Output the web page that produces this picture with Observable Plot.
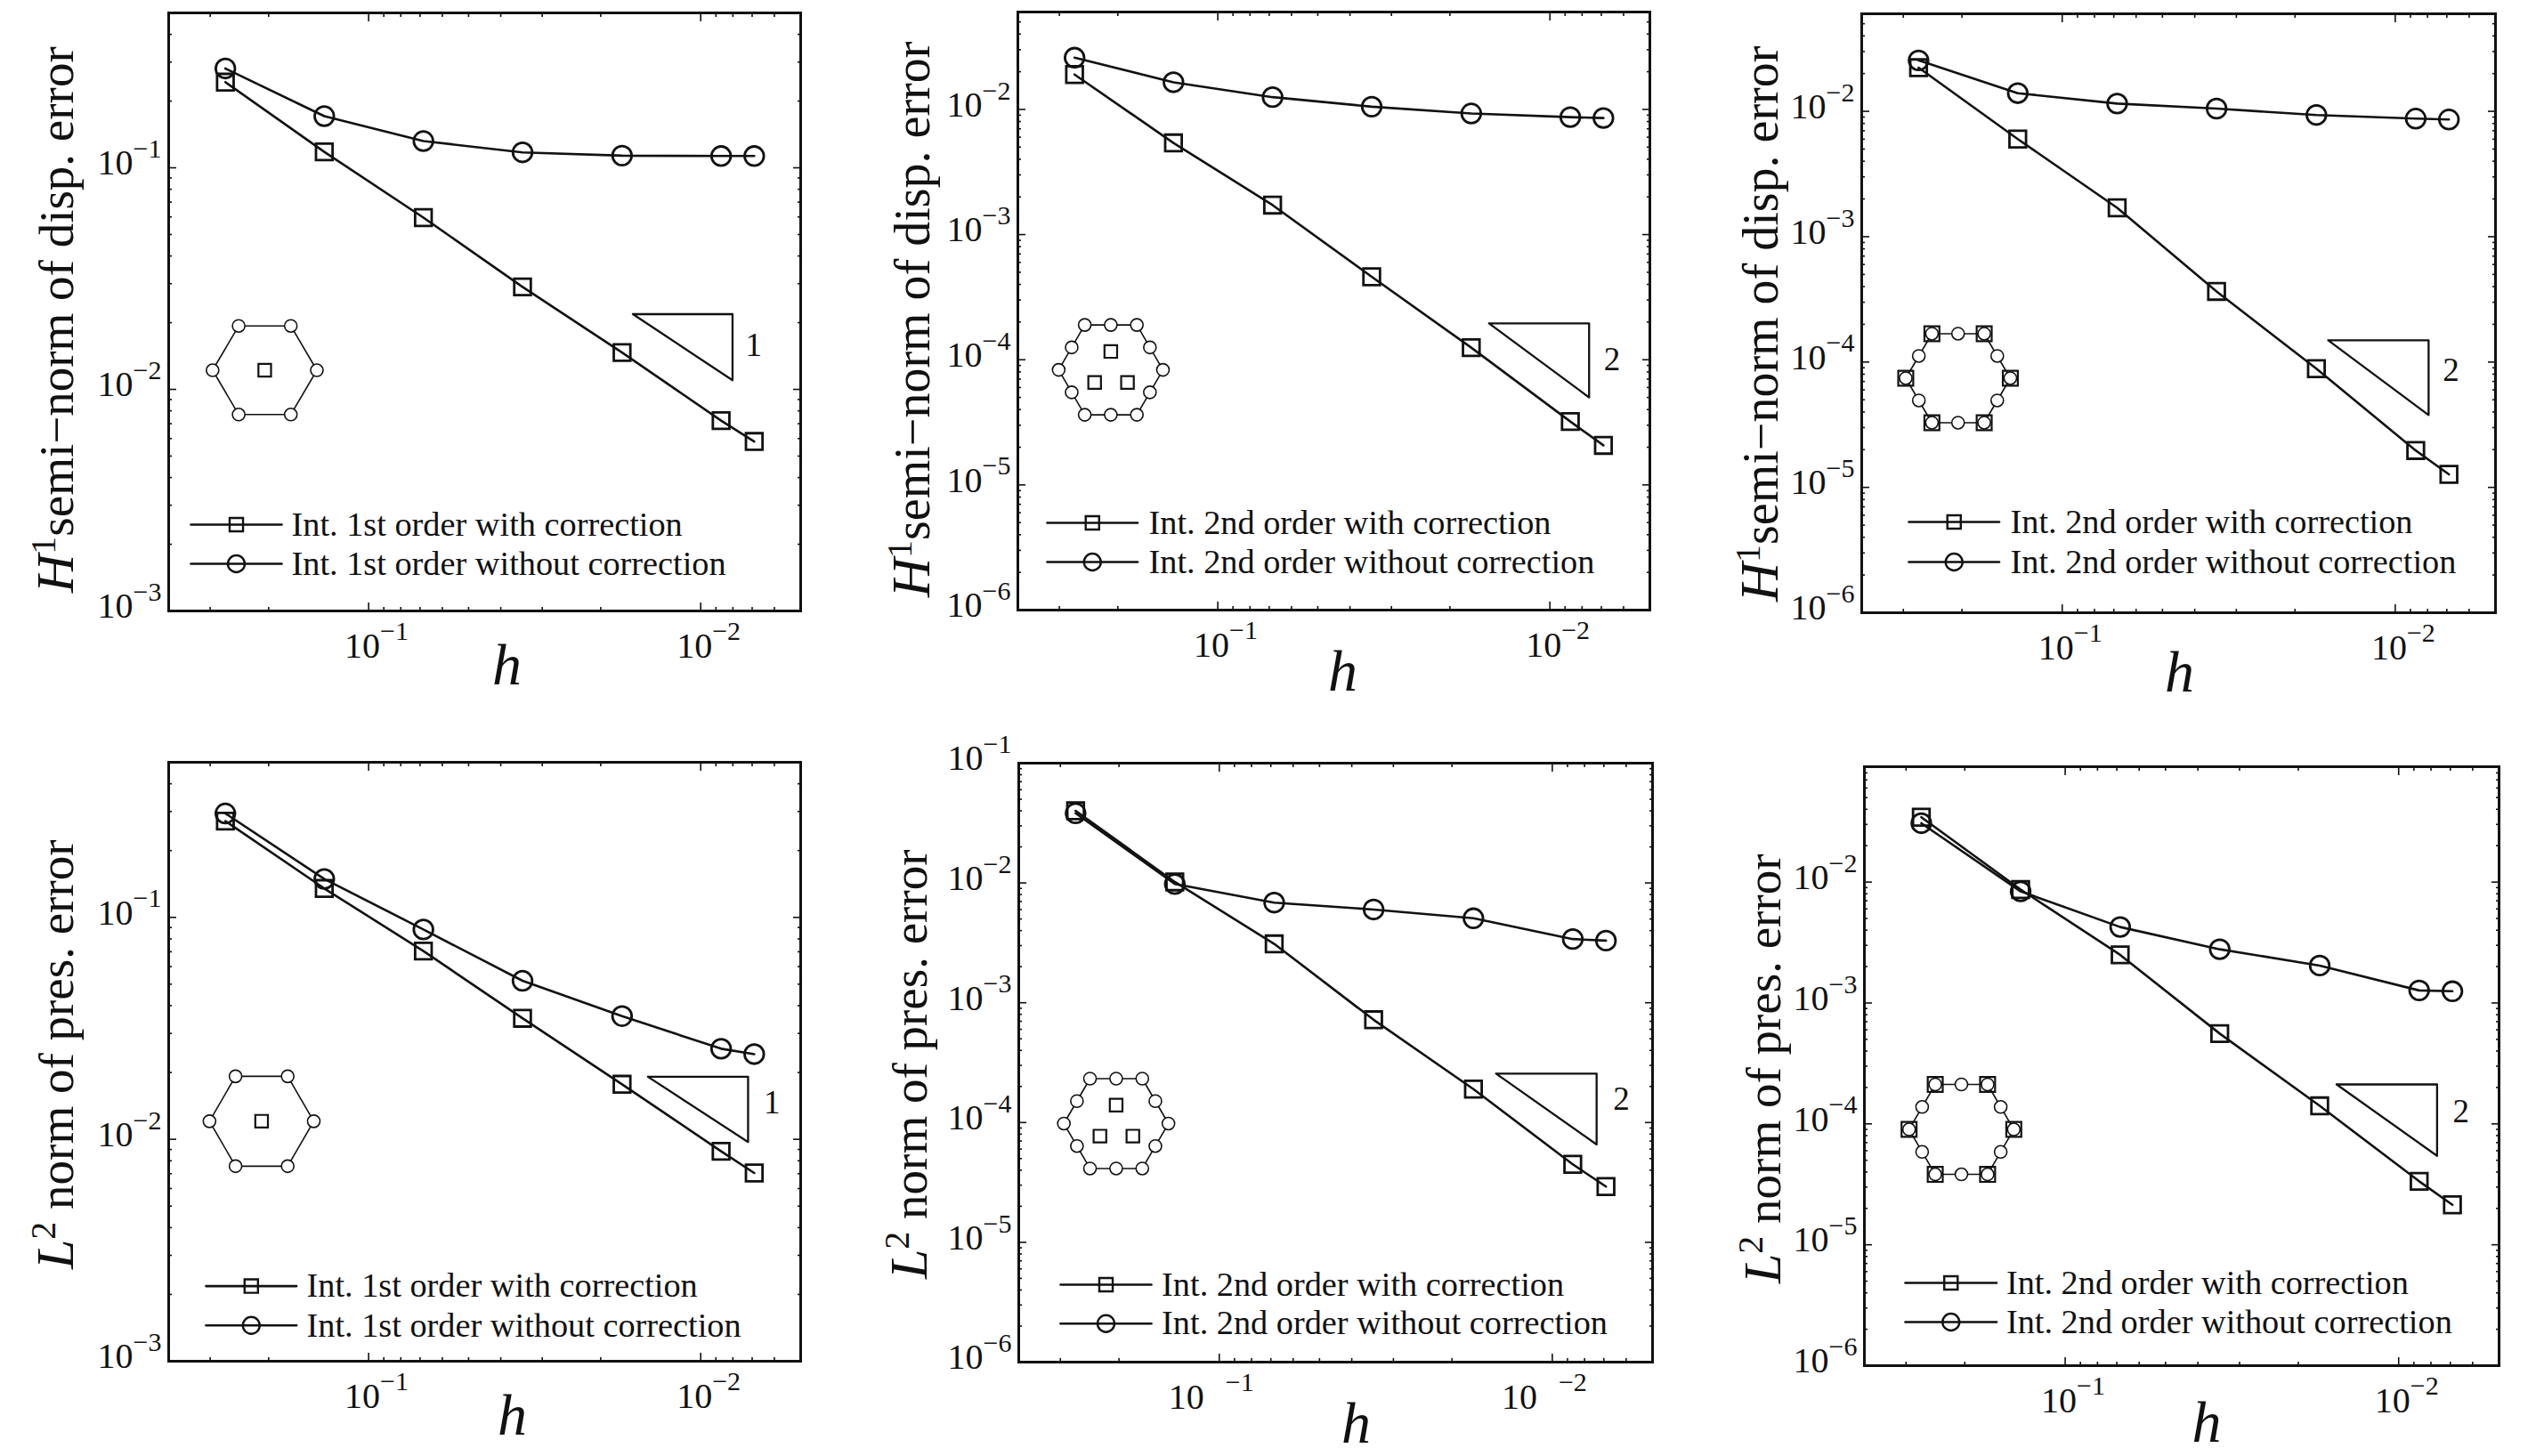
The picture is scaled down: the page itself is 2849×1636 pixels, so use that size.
<!DOCTYPE html>
<html>
<head>
<meta charset="utf-8">
<script src="https://cdn.jsdelivr.net/npm/d3@7"></script>
<script src="https://cdn.jsdelivr.net/npm/@observablehq/plot@0.6"></script>
<style>
html,body{margin:0;padding:0;background:#fff;width:2849px;height:1636px;overflow:hidden}
#root{position:relative;width:2849px;height:1636px}
#root>div{position:absolute}
svg{overflow:visible}
</style>
</head>
<body>
<div id="root"></div>
<script>
const hValues = [0.27,0.136,0.0684,0.0344,0.01725,0.00868,0.0069];

const dispFirstWith    = [0.2435,0.118,0.0596,0.029,0.01466,0.00723,0.00582];
const dispFirstWithout = [0.2806,0.171,0.132,0.1174,0.1135,0.113,0.113];
const dispSecondAWith    = [0.019,0.0054,0.00172,0.00046,0.000125,3.21e-5,2.07e-5];
const dispSecondAWithout = [0.0259,0.01648,0.01253,0.01052,0.00928,0.00867,0.00853];
const dispSecondBWith    = [0.0223,0.00601,0.0017,0.000366,8.85e-5,1.97e-5,1.27e-5];
const dispSecondBWithout = [0.0255,0.01396,0.01153,0.01052,0.00935,0.00875,0.00861];
const presFirstWith    = [0.2716,0.135,0.0705,0.0351,0.0177,0.00883,0.00705];
const presFirstWithout = [0.294,0.149,0.0882,0.0518,0.0359,0.0256,0.0242];
const presSecondAWith    = [0.04,0.0102,0.0031,0.000721,0.00019,4.48e-5,2.92e-5];
const presSecondAWithout = [0.0382,0.0098,0.00685,0.006,0.00507,0.0034,0.0033];
const presSecondBWith    = [0.0344,0.00868,0.0025,0.000558,0.000141,3.35e-5,2.14e-5];
const presSecondBWithout = [0.0307,0.00838,0.00425,0.00278,0.00204,0.00127,0.00125];

const xExponents = [-1,-2];
const legendFirst = ["Int. 1st order with correction","Int. 1st order without correction"];
const legendSecond = ["Int. 2nd order with correction","Int. 2nd order without correction"];

// unit hexagon used by the element sketches
const hexU = [-1,-0.5,0.5,1,0.5,-0.5];
const hexV = [0,1,1,0,-1,-1];
const innerThreeU = [0,-0.31,0.32];
const innerThreeV = [0.41,-0.28,-0.28];

const panels = [
 {box:[189,899,14,686], yd:[1e-3,0.5], exps:[-1,-2,-3], sq:dispFirstWith, ci:dispFirstWithout, leg:legendFirst,
  lx:[25,127,138], ly:[575,619], tri:[0.016,0.00802,0.02185,0.01099], slope:"1", slopePt:[0.00692,0.0158],
  lab:["H","1","semi−norm of disp. error"], lb:[82,666], labFont:55, hx:25, hy:92, xGap:[13,13], el:"A", c:[0.2055,0.0122], ry:0.2},
 {box:[1143,1853,13,685], yd:[1e-6,0.06], exps:[-2,-3,-4,-5,-6], sq:dispSecondAWith, ci:dispSecondAWithout, leg:legendSecond,
  lx:[33,134.5,147], ly:[574,618], tri:[0.01525,0.00762,0.000195,5.0e-5], slope:"2", slopePt:[0.0065,1.0e-4],
  lab:["H","1","semi−norm of disp. error"], lb:[94+950,671], labFont:56, hx:10, hy:100, xGap:[13,13], el:"B", c:[0.21,8.3e-5], ry:0.359},
 {box:[2091,2803,15,688], yd:[1e-6,0.06], exps:[-2,-3,-4,-5,-6], sq:dispSecondBWith, ci:dispSecondBWithout, leg:legendSecond,
  lx:[53,154.5,167], ly:[571,616], tri:[0.0159,0.00794,0.000149,3.78e-5], slope:"2", slopePt:[0.0068,8.6e-5],
  lab:["H","1","semi−norm of disp. error"], lb:[97+1900,676], labFont:56, hx:1, hy:98, xGap:[13,13], el:"C", c:[0.2055,7.43e-5], ry:0.355},
 {box:[189,899,856,1529], yd:[1e-3,0.5], exps:[-1,-2,-3], sq:presFirstWith, ci:presFirstWithout, leg:legendFirst,
  lx:[42,143.6,155], ly:[588.6,632.8], tri:[0.01442,0.0072,0.01914,0.00972], slope:"1", slopePt:[0.0061,0.0146],
  lab:["L","2"," norm of pres. error"], lb:[82,1426], labFont:55, hx:31, hy:92, xGap:[13,13], el:"A", c:[0.21,0.01206], ry:0.2025},
 {box:[1144,1856,857,1530], yd:[1e-6,0.1], exps:[-1,-2,-3,-4,-5,-6], sq:presSecondAWith, ci:presSecondAWithout, leg:legendSecond,
  lx:[47,149,160.6], ly:[586,629.7], tri:[0.01475,0.00736,0.000256,6.56e-5], slope:"2", slopePt:[0.0062,1.555e-4],
  lab:["L","2"," norm of pres. error"], lb:[91+950,1437], labFont:55, hx:23, hy:100, xGap:[-17,7], el:"B", c:[0.204,9.8e-5], ry:0.375},
 {box:[2094,2807,861,1534], yd:[1e-6,0.09], exps:[-2,-3,-4,-5,-6], sq:presSecondBWith, ci:presSecondBWithout, leg:legendSecond,
  lx:[46,148.5,159.4], ly:[580,624], tri:[0.01535,0.00767,0.000212,5.44e-5], slope:"2", slopePt:[0.0065,1.25e-4],
  lab:["L","2"," norm of pres. error"], lb:[100+1900,1442], labFont:55, hx:28, hy:95, xGap:[13,13], el:"C", c:[0.2047,9e-5], ry:0.372}
];

const INK = "#111";
const SERIF = "Liberation Serif";
const xDomain = [0.4,0.005];
const rx = 0.157;

function minorTicks(lo, hi){
  const out=[];
  for(let e=Math.floor(Math.log10(lo));e<=Math.ceil(Math.log10(hi));e++)
    for(let m=2;m<=9;m++){const v=m*10**e; if(v>=lo&&v<=hi) out.push(v);}
  return out;
}

function elementNodes(p){
  const place=(u,v)=>({h:p.c[0]*10**(-u*rx), e:p.c[1]*10**(v*p.ry)});
  const verts=hexU.map((u,i)=>place(u,hexV[i]));
  const mids=hexU.map((u,i)=>{const j=(i+1)%6;return place((u+hexU[j])/2,(hexV[i]+hexV[j])/2);});
  const outline=[...verts,verts[0]];
  if(p.el==="A") return {outline,circles:verts,squares:[place(0,0)],sqR:8};
  if(p.el==="B") return {outline,circles:[...verts,...mids],squares:innerThreeU.map((u,i)=>place(u,innerThreeV[i])),sqR:8};
  return {outline,circles:[...verts,...mids],squares:verts,sqR:9.5};
}

const ml=185, mr=30, mt=12, mb=100;
const root=document.getElementById("root");

for(const p of panels){
  const [L,R,T,B]=p.box, W=R-L, H=B-T;
  const tx=f=>10**(Math.log10(xDomain[0])+f/W*(Math.log10(xDomain[1])-Math.log10(xDomain[0])));
  const ty=f=>10**(Math.log10(p.yd[1])+f/H*(Math.log10(p.yd[0])-Math.log10(p.yd[1])));
  const series=(ys)=>hValues.map((h,i)=>({h,e:ys[i]}));
  const xMajor=xExponents.map(e=>10**e), yMajor=p.exps.map(e=>10**e);
  const xMinor=minorTicks(xDomain[1],xDomain[0]).filter(v=>!xMajor.includes(v));
  const yMinor=minorTicks(p.yd[0],p.yd[1]);
  const noText=()=>"";
  const axX=(vals,anchor,size)=>Plot.axisX(vals,{anchor,tickSize:-size,tickFormat:noText,stroke:INK,strokeWidth:1.6,label:null});
  const axY=(vals,anchor,size)=>Plot.axisY(vals,{anchor,tickSize:-size,tickFormat:noText,stroke:INK,strokeWidth:1.6,label:null});
  const nodes=elementNodes(p);
  const [t1,t2,t3,t4]=p.tri;
  const triangle=[{h:t1,e:t3},{h:t2,e:t3},{h:t2,e:t4},{h:t1,e:t3}];
  const legLine=(i)=>[{h:tx(p.lx[0]),e:ty(p.ly[i])},{h:tx(p.lx[1]),e:ty(p.ly[i])}];
  const legMid=(i)=>[{h:tx((p.lx[0]+p.lx[1])/2),e:ty(p.ly[i])}];
  const legText=(i)=>[{h:tx(p.lx[2]),e:ty(p.ly[i]),t:p.leg[i]}];
  const lineOpts={x:"h",y:"e",stroke:INK,strokeWidth:2.6};

  const fig=Plot.plot({
    width:W+ml+mr, height:H+mt+mb,
    marginLeft:ml, marginRight:mr, marginTop:mt, marginBottom:mb,
    style:{background:"transparent",fontFamily:SERIF,color:INK,overflow:"visible"},
    x:{type:"log",domain:xDomain,axis:null},
    y:{type:"log",domain:p.yd,axis:null},
    marks:[
      axX(xMajor,"bottom",9), axX(xMajor,"top",9), axX(xMinor,"bottom",4), axX(xMinor,"top",4),
      axY(yMajor,"left",9), axY(yMajor,"right",9), axY(yMinor,"left",4), axY(yMinor,"right",4),
      Plot.frame({stroke:INK,strokeWidth:3}),
      // element sketch
      Plot.line(nodes.outline,{x:"h",y:"e",stroke:INK,strokeWidth:1.6}),
      Plot.dot(nodes.circles,{x:"h",y:"e",r:7,symbol:"circle",fill:"white",stroke:INK,strokeWidth:1.6}),
      Plot.dot(nodes.squares,{x:"h",y:"e",r:nodes.sqR,symbol:"square",fill:"none",stroke:INK,strokeWidth:2.2}),
      // slope triangle
      Plot.line(triangle,{x:"h",y:"e",stroke:INK,strokeWidth:2.3}),
      Plot.text([{h:p.slopePt[0],e:p.slopePt[1],t:p.slope}],{x:"h",y:"e",text:"t",fontSize:37,fill:INK,textAnchor:"middle"}),
      // series
      Plot.line(series(p.sq),lineOpts),
      Plot.line(series(p.ci),lineOpts),
      Plot.dot(series(p.sq),{x:"h",y:"e",r:10.5,symbol:"square",fill:"none",stroke:INK,strokeWidth:2.8}),
      Plot.dot(series(p.ci),{x:"h",y:"e",r:10.8,symbol:"circle",fill:"none",stroke:INK,strokeWidth:2.8}),
      // legend
      ...[0,1].flatMap(i=>[
        Plot.line(legLine(i),lineOpts),
        Plot.dot(legMid(i),{x:"h",y:"e",r:i?9.5:8.5,symbol:i?"circle":"square",fill:"none",stroke:INK,strokeWidth:2.4}),
        Plot.text(legText(i),{x:"h",y:"e",text:"t",fontSize:38.3,fill:INK,textAnchor:"start"})
      ]),
      // y tick labels
      Plot.text(yMajor,{y:d=>d,frameAnchor:"left",dx:-40,dy:-5,text:()=>"10",fontSize:40,textAnchor:"end",fill:INK}),
      Plot.text(p.exps,{y:d=>10**d,frameAnchor:"left",dx:-40,dy:-21,text:d=>"−"+Math.abs(d),fontSize:30,textAnchor:"start",fill:INK}),
      // x tick labels
      Plot.text(xMajor,{x:d=>d,frameAnchor:"bottom",dx:p.xGap[0],dy:52,text:()=>"10",fontSize:40,textAnchor:"end",fill:INK}),
      Plot.text(xExponents,{x:d=>10**d,frameAnchor:"bottom",dx:p.xGap[1],dy:32,text:d=>"−"+Math.abs(d),fontSize:30,textAnchor:"start",fill:INK}),
      // x label
      Plot.text(["h"],{frameAnchor:"bottom",dx:p.hx,dy:p.hy-10,text:d=>d,fontSize:66,fontStyle:"italic",textAnchor:"middle",fill:INK}),
      // y label
      ()=>{
        const t=d3.create("svg:text")
          .attr("transform",`translate(${p.lb[0]-(L-ml)},${p.lb[1]-(T-mt)}) rotate(-90)`)
          .attr("text-anchor","start")
          .attr("font-family",SERIF).attr("font-size",p.labFont).attr("fill",INK);
        t.append("tspan").attr("font-style","italic").attr("font-size",p.labFont+5).text(p.lab[0]);
        t.append("tspan").attr("dy",-20).attr("font-size",40).text(p.lab[1]);
        t.append("tspan").attr("dy",20).text(p.lab[2]);
        return t.node();
      }
    ]
  });
  const box=document.createElement("div");
  box.style.left=(L-ml)+"px"; box.style.top=(T-mt)+"px";
  box.appendChild(fig);
  root.appendChild(box);
}
</script>
</body>
</html>
